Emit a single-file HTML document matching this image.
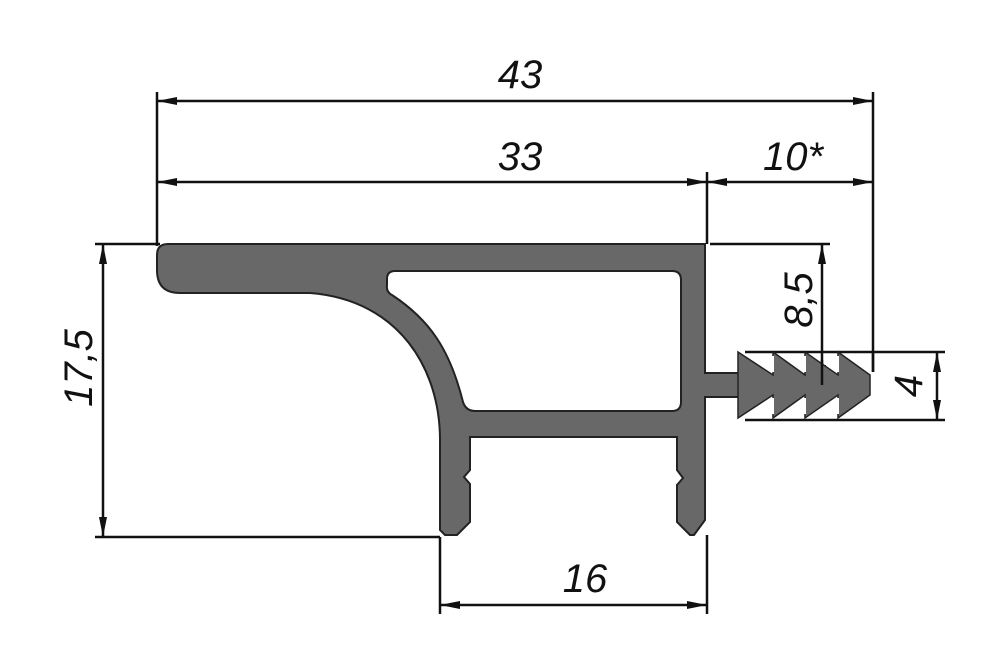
<!DOCTYPE html>
<html><head><style>body{margin:0;background:#fff}svg{display:block}text{font-family:"Liberation Sans",sans-serif;font-style:italic;font-size:40px;fill:#111}</style></head>
<body>
<svg width="1000" height="666" viewBox="0 0 1000 666" xmlns="http://www.w3.org/2000/svg">
<defs>
<marker id="a" viewBox="0 0 20 8" refX="20" refY="4" markerWidth="20" markerHeight="8" markerUnits="userSpaceOnUse" orient="auto-start-reverse"><path d="M0,0 L20,4 L0,8 Z" fill="#111"/></marker>
</defs>
<g stroke="#111" stroke-width="2.5" fill="none">
<line x1="157" y1="92" x2="157" y2="246"/>
<line x1="707" y1="172" x2="707" y2="244"/>
<line x1="873" y1="92" x2="873" y2="372"/>
<line x1="95" y1="244" x2="160" y2="244"/>
<line x1="95" y1="537" x2="440" y2="537"/>
<line x1="710" y1="244" x2="830" y2="244"/>
<line x1="745" y1="352" x2="945" y2="352"/>
<line x1="745" y1="420" x2="945" y2="420"/>
<line x1="440" y1="537" x2="440" y2="614"/>
<line x1="707" y1="535" x2="707" y2="614"/>
<line x1="818" y1="385" x2="866" y2="385"/>
<line x1="157" y1="101" x2="873" y2="101" marker-start="url(#a)" marker-end="url(#a)"/>
<line x1="157" y1="182" x2="707" y2="182" marker-start="url(#a)" marker-end="url(#a)"/>
<line x1="707" y1="182" x2="873" y2="182" marker-start="url(#a)" marker-end="url(#a)"/>
<line x1="103" y1="244" x2="103" y2="537" marker-start="url(#a)" marker-end="url(#a)"/>
<line x1="822" y1="244" x2="822" y2="385" marker-start="url(#a)" marker-end="url(#a)"/>
<line x1="937" y1="352" x2="937" y2="420" marker-start="url(#a)" marker-end="url(#a)"/>
<line x1="440" y1="605" x2="707" y2="605" marker-start="url(#a)" marker-end="url(#a)"/>
</g>
<path fill-rule="evenodd" fill="#686868" stroke="#222" stroke-width="2" d="
M 168 244 L 705 244 L 705 373 L 740 373 L 740 397 L 705 397 L 705 520 L 694 535 L 690 535 L 677 522 L 677 485 L 683 478 L 677 470 L 677 437 L 470 437 L 470 470 L 464 477 L 470 484 L 470 522 L 457 535 L 445 535 L 440 530 L 440 440 C 440 370 400 300 310 293 L 180 293 Q 157 293 157 270 L 157 255 Q 157 244 168 244 Z
M 395 271 L 672 271 Q 681 271 681 280 L 681 402 Q 681 411 672 411 L 475 411 Q 466 411 463 402 C 450 350 430 320 392 295 Q 386 292 387 285 L 387 279 Q 387 271 395 271 Z"/>
<path fill="#686868" stroke="#222" stroke-width="1.5" d="M738 352 L773 375 L773 352 L805 375 L805 352 L838 375 L838 352 L870 375 L870 395 L838 418 L838 395 L805 418 L805 395 L773 418 L773 395 L738 418 Z"/>
<g stroke="#fff" stroke-width="2"><line x1="773" y1="356" x2="773" y2="372"/><line x1="805" y1="356" x2="805" y2="372"/><line x1="838" y1="356" x2="838" y2="372"/><line x1="773" y1="398" x2="773" y2="414"/><line x1="805" y1="398" x2="805" y2="414"/><line x1="838" y1="398" x2="838" y2="414"/></g>
<line x1="822" y1="360" x2="822" y2="385" stroke="#111" stroke-width="2.5"/>
<line x1="873" y1="352" x2="873" y2="372" stroke="#111" stroke-width="2.5"/>
<text x="520" y="88" text-anchor="middle">43</text>
<text x="520" y="170" text-anchor="middle">33</text>
<text x="793" y="170" text-anchor="middle">10*</text>
<text x="585" y="592" text-anchor="middle">16</text>
<text transform="translate(92,368) rotate(-90)" text-anchor="middle">17,5</text>
<text transform="translate(812,300) rotate(-90)" text-anchor="middle">8,5</text>
<text transform="translate(922,386) rotate(-90)" text-anchor="middle">4</text>
</svg>
</body></html>
